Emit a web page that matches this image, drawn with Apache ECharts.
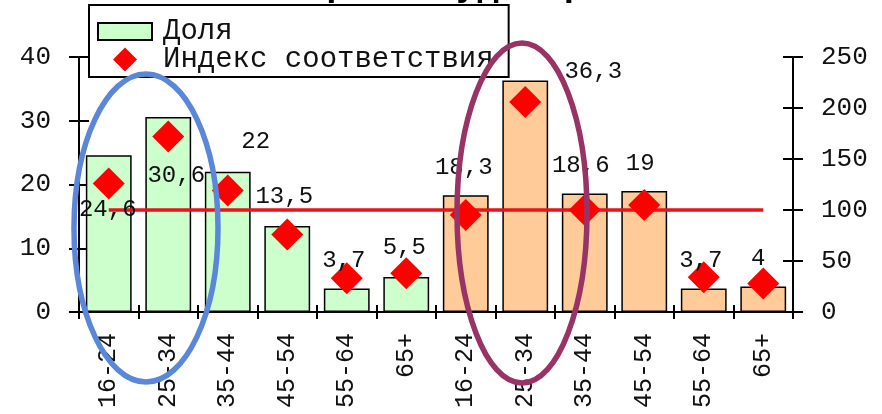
<!DOCTYPE html>
<html>
<head>
<meta charset="utf-8">
<script src="https://cdn.jsdelivr.net/npm/echarts@6/dist/echarts.min.js"></script>
<style>
html,body{margin:0;padding:0;background:#fff;}
#chart{width:882px;height:414px;}
</style>
</head>
<body>
<div id="chart"></div>
<script>
// ---- data ----
var categories = ['16-24','25-34','35-44','45-54','55-64','65+','16-24','25-34','35-44','45-54','55-64','65+'];
var shareValues = [24.6, 30.6, 22, 13.5, 3.7, 5.5, 18.3, 36.3, 18.6, 19, 3.7, 4];
var indexValues = [126, 172, 119, 76, 33, 38, 95, 206, 100, 105, 34, 28];
var baselineValues = [100,100,100,100,100,100,100,100,100,100,100,100];
var groupOf = ['a','a','a','a','a','a','b','b','b','b','b','b'];
var leftTicks = [0, 10, 20, 30, 40];
var rightTicks = [0, 50, 100, 150, 200, 250];
var seriesNames = ['Доля', 'Индекс соответствия'];
var titleText = 'Возраст аудитории';

// ---- styles (not data) ----
var FONT = 'Liberation Mono';
var groupColors = {a: '#CCFFCC', b: '#FFCC99'};
var labelOffsets = [[-1,66],[8,71],[28,-18],[-3,-17],[-3,-16],[-2,-17],[-2,-16],[68,3],[-4,-16],[-4,-15],[-3,-16],[-5,-16]];
var legendRect = 'path://M0,0 M54,24 M0,3.5 L54,3.5 L54,20.5 L0,20.5 Z';
var legendDiamond = 'path://M0,0 M54,24 M27,0 L39,12 L27,24 L15,12 Z';

var chart = echarts.init(document.getElementById('chart'), null, {renderer: 'canvas'});

var barData = shareValues.map(function (v, i) {
  return {value: v, itemStyle: {color: groupColors[groupOf[i]]}};
});
var labelData = shareValues.map(function (v, i) {
  return {value: v, label: {offset: labelOffsets[i]}};
});

var yMaxL = leftTicks[leftTicks.length - 1], yIntL = leftTicks[1] - leftTicks[0];
var yMaxR = rightTicks[rightTicks.length - 1], yIntR = rightTicks[1] - rightTicks[0];

function yAx(pos, max, interval, inside, showLabel) {
  return {
    type: 'value', position: pos, min: 0, max: max, interval: interval,
    axisLine: {show: !inside, lineStyle: {color: '#000', width: 2}},
    axisTick: {show: true, inside: inside, length: 10, lineStyle: {color: '#000', width: 2}},
    axisLabel: {show: showLabel, fontFamily: FONT, fontSize: 26, color: '#111', margin: 28},
    splitLine: {show: false}
  };
}

var option = {
  animation: false,
  backgroundColor: '#fff',
  grid: {left: 79, right: 89, top: 57, bottom: 102, containLabel: false},
  legend: {
    show: true,
    data: [
      {name: seriesNames[0], icon: legendRect},
      {name: seriesNames[1], icon: legendDiamond, itemStyle: {opacity: 1}}
    ],
    orient: 'vertical', left: 89, top: 5,
    backgroundColor: '#fff', borderColor: '#000', borderWidth: 2, borderRadius: 0,
    padding: [12, 15, 3, 8],
    itemWidth: 54, itemHeight: 24, itemGap: -1,
    textStyle: {fontFamily: FONT, fontSize: 29, color: '#111', padding: [0, 0, 0, 6]},
    selectedMode: false
  },
  xAxis: [{
    type: 'category', data: categories, position: 'bottom',
    axisLine: {show: true, onZero: false, lineStyle: {color: '#000', width: 2}},
    axisTick: {show: true, length: 7, lineStyle: {color: '#000', width: 2}},
    axisLabel: {rotate: 90, fontFamily: FONT, fontSize: 25, color: '#111', margin: 21, interval: 0},
    splitLine: {show: false}
  }, {
    type: 'category', data: categories, position: 'bottom',
    axisLine: {show: false, onZero: false},
    axisTick: {show: true, inside: true, length: 7, lineStyle: {color: '#000', width: 2}},
    axisLabel: {show: false}
  }],
  yAxis: [
    yAx('left', yMaxL, yIntL, false, true),
    yAx('right', yMaxR, yIntR, false, true),
    yAx('left', yMaxL, yIntL, true, false),
    yAx('right', yMaxR, yIntR, true, false)
  ],
  series: [
    {
      name: seriesNames[0], type: 'bar', data: barData, xAxisIndex: 0, yAxisIndex: 0,
      barCategoryGap: '23%',
      itemStyle: {color: groupColors.a, borderColor: '#000', borderWidth: 1.5},
      z: 2
    },
    {
      name: 'base', type: 'line', data: baselineValues, xAxisIndex: 0, yAxisIndex: 1,
      symbol: 'none', lineStyle: {color: '#E8141A', width: 3.5}, z: 3
    },
    {
      name: seriesNames[1], type: 'scatter', data: indexValues, xAxisIndex: 0, yAxisIndex: 1,
      symbol: 'diamond', symbolSize: 32, itemStyle: {color: '#FF0000', opacity: 1}, z: 4
    },
    {
      name: 'labels', type: 'scatter', data: labelData, xAxisIndex: 0, yAxisIndex: 0,
      symbolSize: 0, silent: true, z: 6, itemStyle: {opacity: 1},
      label: {
        show: true, position: 'top', distance: 0,
        fontFamily: FONT, fontSize: 24, color: '#111',
        formatter: function (p) { return String(p.value).replace('.', ','); }
      }
    }
  ],
  graphic: [
    {
      type: 'text', z: -1,
      style: {
        x: 445, y: 4, text: titleText, align: 'center', verticalAlign: 'bottom',
        font: 'bold 36px "Liberation Mono"', fill: '#000'
      }
    },
    {
      type: 'ellipse', z: 100,
      shape: {cx: 146, cy: 228, rx: 72, ry: 154},
      style: {fill: null, stroke: '#5B87D9', lineWidth: 5.5}
    },
    {
      type: 'ellipse', z: 100,
      shape: {cx: 522, cy: 213, rx: 65, ry: 170},
      style: {fill: null, stroke: '#993366', lineWidth: 5.5}
    }
  ]
};
chart.setOption(option);
</script>
</body>
</html>
